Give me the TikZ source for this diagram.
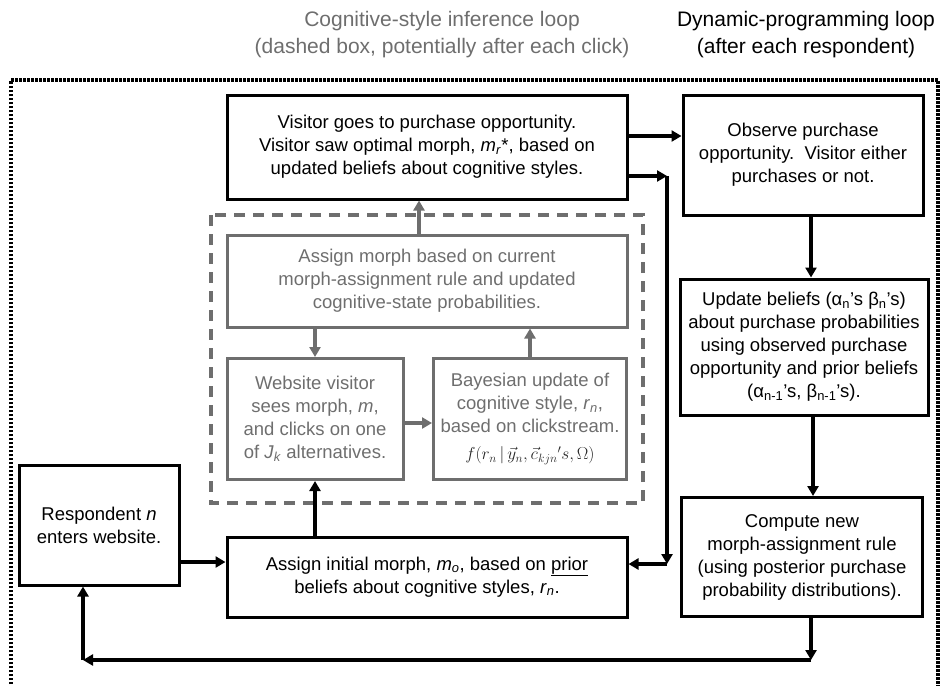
\documentclass[tikz,border=0pt]{standalone}
\usepackage{fontspec}
\setmainfont{Liberation Sans}
\usetikzlibrary{arrows.meta}
\definecolor{infergray}{RGB}{110,110,110}
\newcommand{\boxfont}{\fontsize{18.5}{23}\selectfont}
\newcommand{\titlefont}{\fontsize{21}{27}\selectfont}

\begin{document}
\begin{tikzpicture}[x=1pt, y=-1pt,
    box/.style={draw, line width=3pt, align=center, inner sep=0pt, font=\boxfont},
    gray box/.style={box, draw=infergray, text=infergray},
    arrow/.style={line width=3.5pt, -{Triangle[length=10pt,width=11pt]}},
    gray arrow/.style={arrow, draw=infergray}]
    \useasboundingbox (0,0) rectangle (952,685);
    \clip (0,0) rectangle (952,685);
    % titles
    \node[font=\titlefont, text=infergray, align=center] (cogtitle) at (442,35)
        {Cognitive-style inference loop\\(dashed box, potentially after each click)};
    \node[font=\titlefont, align=center] (dyntitle) at (806,35)
        {Dynamic-programming loop\\(after each respondent)};
    % loops
    \draw[line width=3.5pt, dash pattern=on 2.5pt off 1.5pt] (11,700) -- (11,80) -- (938,80) -- (938,700);
    \draw[infergray, line width=3.5pt, dash pattern=on 11pt off 8pt] (211,215) rectangle (643,503);
    % boxes
    \node[box, minimum width=400, minimum height=104] (visit) at (427,147)
        {Visitor goes to purchase opportunity.\\
         Visitor saw optimal morph, \textit{m}\textsubscript{\textit{r}}*, based on\\
         updated beliefs about cognitive styles.};
    \node[box, minimum width=240, minimum height=120] (obs) at (803,155)
        {Observe purchase\\opportunity.\ \ Visitor either\\purchases or not.};
    \node[box, minimum width=248, minimum height=136] (upd) at (804,347)
        {Update beliefs (α\textsubscript{n}’s β\textsubscript{n}’s)\\
         about purchase probabilities\\
         using observed purchase\\
         opportunity and prior beliefs\\
         (α\textsubscript{n-1}’s, β\textsubscript{n-1}’s).};
    \node[box, minimum width=241, minimum height=119] (comp) at (802,557)
        {Compute new\\morph-assignment rule\\(using posterior purchase\\probability distributions).};
    \node[gray box, minimum width=400, minimum height=92] (assign) at (427,281)
        {Assign morph based on current\\morph-assignment rule and updated\\cognitive-state probabilities.};
    \node[gray box, minimum width=176, minimum height=121] (web) at (315,419)
        {Website visitor\\sees morph, \textit{m},\\and clicks on one\\of \textit{J}\textsubscript{\textit{k}} alternatives.};
    \node[gray box, minimum width=193, minimum height=121] (bayes) at (530,419)
        {Bayesian update of\\cognitive style, \textit{r}\textsubscript{\textit{n}},\\based on clickstream.\\[4pt]
         \textcolor{black!85}{$f(r_n\,|\,\vec{y}_n,\vec{c}_{kjn}\mathrm{'}s,\Omega)$}};
    \node[box, minimum width=400, minimum height=80] (init) at (427,577)
        {Assign initial morph, \textit{m}\textsubscript{\textit{o}}, based on \underline{prior}\\
         beliefs about cognitive styles, \textit{r}\textsubscript{\textit{n}}.};
    \node[box, minimum width=160, minimum height=120] (resp) at (99,525)
        {Respondent \textit{n}\\enters website.};
    % corners of the long connectors
    \coordinate (obsturn) at (667,176);
    \coordinate (initturn) at (667,564);
    \coordinate (compturn) at (811,660);
    \coordinate (respturn) at (83,660);
    % inference loop
    \draw[arrow] (init.north -| web) -- (web.south);
    \draw[gray arrow] ([yshift=-4]web.east) -- ([yshift=-4]web.east -| bayes.west);
    \draw[gray arrow] (bayes.north) -- (bayes.north |- assign.south);
    \draw[gray arrow] (assign.south -| web) -- (web.north);
    \draw[gray arrow] ([xshift=-8]assign.north) -- ([xshift=-8]visit.south);
    % dynamic-programming loop
    \draw[arrow] ([yshift=-37]resp.east) -- ([yshift=-37]resp.east -| init.west);
    \draw[arrow] ([yshift=11]visit.east) -- ([yshift=11]visit.east -| obs.west);
    \draw[arrow] (visit.east |- obsturn) -- (obsturn);
    \draw[arrow] (obsturn) -- (initturn);
    \draw[arrow] (initturn) -- (initturn -| init.east);
    \draw[arrow] ([xshift=8]obs.south) -- ([xshift=8]obs.south |- upd.north);
    \draw[arrow] ([xshift=9]upd.south) -- ([xshift=9]upd.south |- comp.north);
    \draw[arrow] (comp.south -| compturn) -- (compturn);
    \draw[arrow] (compturn) -- (respturn);
    \draw[arrow] (respturn) -- (respturn |- resp.south);
\end{tikzpicture}
\end{document}
